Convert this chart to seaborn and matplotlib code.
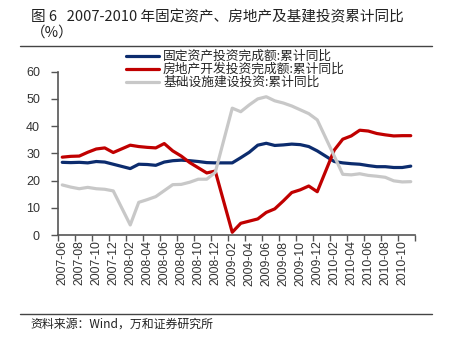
import numpy as np
import pandas as pd
import matplotlib
matplotlib.use("Agg")
import matplotlib.pyplot as plt
import seaborn as sns

months = [
    "2007-06", "2007-07", "2007-08", "2007-09", "2007-10", "2007-11", "2007-12",
    "2008-01", "2008-02", "2008-03", "2008-04", "2008-05", "2008-06", "2008-07",
    "2008-08", "2008-09", "2008-10", "2008-11", "2008-12",
    "2009-01", "2009-02", "2009-03", "2009-04", "2009-05", "2009-06", "2009-07",
    "2009-08", "2009-09", "2009-10", "2009-11", "2009-12",
    "2010-01", "2010-02", "2010-03", "2010-04", "2010-05", "2010-06", "2010-07",
    "2010-08", "2010-09", "2010-10", "2010-11",
]
nan = np.nan
fixed_asset = [26.7, 26.6, 26.7, 26.5, 27.0, 26.8, 26.0, nan, 24.4, 26.0, 25.9, 25.6,
               26.8, 27.3, 27.5, 27.3, 27.0, 26.6, 26.5, nan, 26.5, 28.4, 30.4, 33.0,
               33.7, 32.9, 33.1, 33.4, 33.2, 32.5, 30.9, nan, 27.0, 26.5, 26.2, 26.0,
               25.5, 25.1, 25.1, 24.8, 24.8, 25.3]
real_estate = [28.6, 28.9, 29.0, 30.4, 31.6, 32.0, 30.3, nan, 33.0, 32.5, 32.2, 32.0,
               33.6, 30.9, 29.0, 26.6, 24.7, 22.8, 23.5, nan, 1.0, 4.3, 5.1, 5.9,
               8.3, 9.6, 12.5, 15.6, 16.6, 18.0, 15.9, nan, 31.2, 35.2, 36.4, 38.5,
               38.2, 37.3, 36.8, 36.4, 36.5, 36.5]
infrastructure = [18.4, 17.6, 17.0, 17.5, 17.0, 16.8, 16.2, nan, 3.7, 12.0, 13.0, 14.1,
                  16.3, 18.5, 18.6, 19.4, 20.5, 20.5, 23.0, nan, 46.6, 45.3, 47.8, 50.0,
                  50.8, 49.3, 48.5, 47.4, 46.0, 44.6, 42.3, nan, 29.0, 22.3, 22.1, 22.5,
                  21.9, 21.6, 21.2, 19.9, 19.5, 19.6]
series_names = ["固定资产投资完成额:累计同比", "房地产开发投资完成额:累计同比", "基础设施建设投资:累计同比"]
colors = ["#0C2C6E", "#C00000", "#C8C8C8"]
yticks = [0, 10, 20, 30, 40, 50, 60]

sns.set_style("white")
plt.rcParams["font.family"] = ["Noto Sans CJK SC", "DejaVu Sans"]

pos = np.arange(len(months))
frames = []
for name, vals in zip(series_names, [fixed_asset, real_estate, infrastructure]):
    frames.append(pd.DataFrame({"pos": pos, "month": months, "value": vals, "series": name}))
df = pd.concat(frames, ignore_index=True).dropna()

fig = plt.figure(figsize=(4.5, 3.43), dpi=100)
ax = fig.add_axes([58 / 450, 1 - 235 / 343, (415 - 58) / 450, (235 - 71.7) / 343])

sns.lineplot(data=df, x="pos", y="value", hue="series", hue_order=series_names,
             palette=dict(zip(series_names, colors)), linewidth=2.3, ax=ax,
             estimator=None, sort=True)

ax.set_xlim(-0.5, len(months) - 0.5)
ax.set_ylim(0, 60)
ax.set_yticks(yticks)
ax.set_yticklabels([str(v) for v in yticks], family=["Liberation Sans", "DejaVu Sans"],
                   fontsize=9, color="#333333")
ax.set_xticks(np.arange(-0.5, len(months), 2))
ax.set_xticklabels([])
ax.set_xticks(pos[::2], minor=True)
ax.set_xticklabels(months[::2], minor=True, rotation=90, family=["Liberation Sans", "DejaVu Sans"],
                   fontsize=8.7, color="#333333")
ax.tick_params(axis="x", which="major", direction="out", length=4, width=1, color="#555555", bottom=True)
ax.tick_params(axis="x", which="minor", length=0, pad=4, bottom=True)
ax.tick_params(axis="y", direction="out", length=5, width=1, color="#555555", pad=8, left=True)
ax.set_xlabel("")
ax.set_ylabel("")
for s in ["top", "right"]:
    ax.spines[s].set_visible(False)
for s in ["left", "bottom"]:
    ax.spines[s].set_color("#555555")
    ax.spines[s].set_linewidth(1.2)

handles, labels = ax.get_legend_handles_labels()
ax.legend(handles, labels, loc="upper left", bbox_to_anchor=(126 / 450, 1 - 50 / 343),
          bbox_transform=fig.transFigure, frameon=False, fontsize=9.2, handlelength=2.6,
          handletextpad=0.3, labelspacing=0.0, borderpad=0, borderaxespad=0)

fig.text(31 / 450, 1 - 17 / 343, "图 6   2007-2010 年固定资产、房地产及基建投资累计同比",
         ha="left", va="center", fontsize=10.5, color="#222222")
fig.text(31 / 450, 1 - 33 / 343, "（%）", ha="left", va="center", fontsize=10.5, color="#222222")
fig.add_artist(plt.Line2D([20 / 450, 432 / 450], [1 - 46 / 343, 1 - 46 / 343],
                          transform=fig.transFigure, color="#444444", linewidth=1))
fig.add_artist(plt.Line2D([20 / 450, 432 / 450], [1 - 314 / 343, 1 - 314 / 343],
                          transform=fig.transFigure, color="#444444", linewidth=1))
fig.text(30 / 450, 1 - 324 / 343, "资料来源：Wind，万和证券研究所", ha="left", va="center",
         fontsize=8.6, color="#222222")

fig.savefig("out.png", dpi=100)
